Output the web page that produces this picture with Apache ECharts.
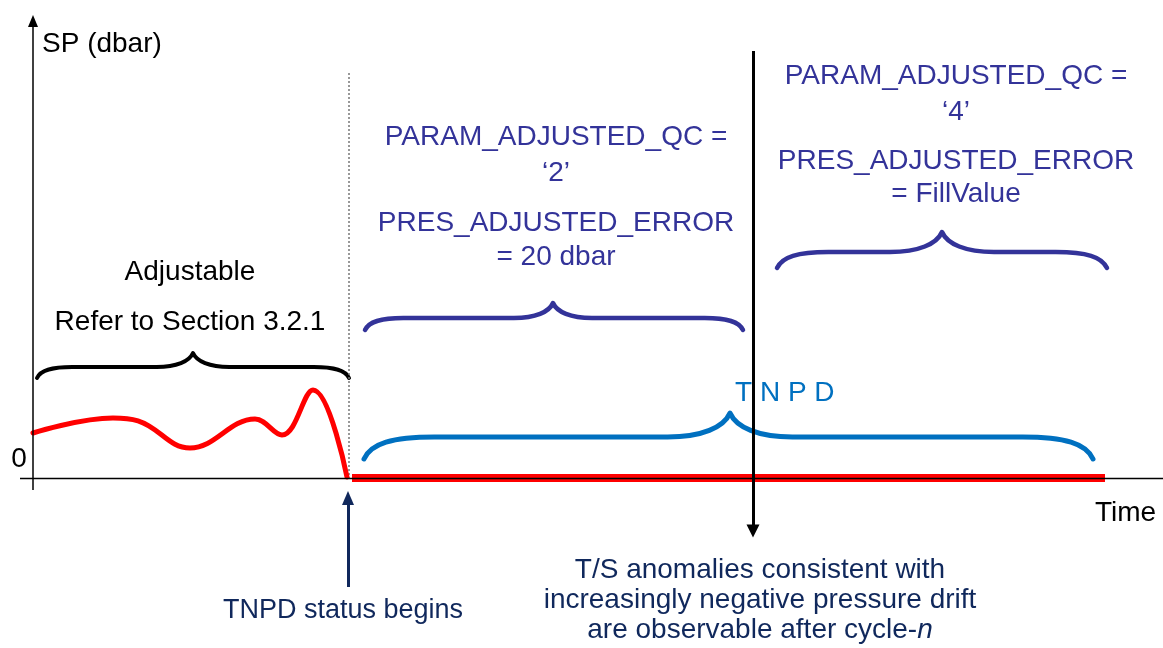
<!DOCTYPE html>
<html>
<head>
<meta charset="utf-8">
<script src="https://cdn.jsdelivr.net/npm/echarts@6/dist/echarts.min.js"></script>
<style>
  html, body { margin: 0; padding: 0; background: #fff; }
  #chart { width: 1163px; height: 648px; }
</style>
</head>
<body>
<div id="chart"></div>
<script>
// x in time units (10 px each), y in SP units (4 px each), 0/0 = axis origin
const spBefore = [[0, 11.25], [8, 15], [10.5, 14.3], [15.7, 7.5], [22.2, 14.75], [24.9, 10.75], [28, 22], [31.4, 0.25]];
const spTnpd = [[31.9, 0], [107.2, 0]];
const tnpdStartX = 31.6;
const cycleNX = 72;

// braces: Adjustable, QC=2, QC=4, TNPD
const braceX0 = [0.4, 33.2, 74.4, 33.1];
const braceX1 = [31.6, 71, 107.4, 106];
const braceTipX = [16, 52, 90.9, 69.7];
const braceEndY = [25, 37, 52.5, 4.75];
const braceFlatY = [27.75, 40, 56.5, 10.25];
const braceTipY = [31.25, 43.75, 61.5, 16.25];
const braceColors = ['#000000', '#333399', '#333399', '#0070c0'];
const braceWidths = [4, 4.5, 4.5, 5];

const FONT = '"Liberation Sans", Arial, sans-serif';
const NAVY = '#333399';
const DARK = '#10285c';

const chart = echarts.init(document.getElementById('chart'));

const braceData = braceX0.map((x0, i) => [x0, braceX1[i], braceTipX[i], braceEndY[i], braceFlatY[i], braceTipY[i]]);

function renderBrace(params, api) {
  const i = params.dataIndex;
  const a = api.coord([api.value(0), api.value(3)]);
  const b = api.coord([api.value(1), api.value(3)]);
  const f = api.coord([api.value(2), api.value(4)]);
  const t = api.coord([api.value(2), api.value(5)]);
  const x0 = a[0], x1 = b[0], xt = t[0], yE = a[1], yF = f[1], yT = t[1];
  const r = 3.2 * (yE - yF);
  const h = yF - yT;
  const s = 2.6 * h;
  const d = [
    'M', x0, yE,
    'C', x0 + 0.1 * r, yE - 0.7 * (yE - yF), x0 + 0.4 * r, yF, x0 + r, yF,
    'L', xt - s, yF,
    'C', xt - 0.45 * s, yF, xt - 0.1 * s, yF - 0.4 * h, xt, yT,
    'C', xt + 0.1 * s, yF - 0.4 * h, xt + 0.45 * s, yF, xt + s, yF,
    'L', x1 - r, yF,
    'C', x1 - 0.4 * r, yF, x1 - 0.1 * r, yE - 0.7 * (yE - yF), x1, yE
  ].join(' ');
  return {
    type: 'path',
    shape: { pathData: d },
    style: { fill: 'none', stroke: braceColors[i], lineWidth: braceWidths[i], lineCap: 'round', lineJoin: 'round' }
  };
}

function txt(x, y, text, opts) {
  opts = opts || {};
  return {
    type: 'text',
    x: x,
    y: y,
    silent: true,
    style: {
      text: text,
      fill: opts.color || '#000',
      fontSize: opts.size || 28,
      fontFamily: FONT,
      textAlign: opts.align || 'center',
      align: opts.align || 'center',
      textVerticalAlign: 'middle',
      verticalAlign: 'middle',
      rich: opts.rich
    }
  };
}

const option = {
  animation: false,
  grid: { left: 0, right: 0, top: 0, bottom: 0 },
  xAxis: { type: 'value', min: -3.3, max: 113, show: false },
  yAxis: { type: 'value', min: -42.5, max: 119.5, show: false },
  series: [
    {
      // axes + arrows
      type: 'line',
      data: [],
      silent: true,
      markLine: {
        silent: true,
        animation: false,
        label: { show: false },
        data: [
          [{ coord: [-1.3, 0], symbol: 'none', lineStyle: { color: '#000', width: 1.3, type: 'solid' } },
           { coord: [113, 0], symbol: 'none' }],
          [{ coord: [0, -3], symbol: 'none', lineStyle: { color: '#000', width: 1.5, type: 'solid' } },
           { coord: [0, 114.25], symbol: 'triangle', symbolSize: [10, 12] }],
          [{ coord: [tnpdStartX - 0.1, -27.25], symbol: 'none', lineStyle: { color: DARK, width: 3, type: 'solid' } },
           { coord: [tnpdStartX - 0.1, -5], symbol: 'triangle', symbolSize: [12, 14] }]
        ]
      }
    },
    {
      type: 'line',
      data: [[tnpdStartX, 101.25], [tnpdStartX, 0]],
      symbol: 'none',
      silent: true,
      lineStyle: { color: '#777', width: 1.5, type: [2, 2] }
    },
    {
      type: 'custom',
      data: braceData,
      silent: true,
      clip: false,
      renderItem: renderBrace
    },
    {
      type: 'line',
      data: spBefore,
      smooth: 0.4,
      symbol: 'none',
      silent: true,
      lineStyle: { color: '#ff0000', width: 5, cap: 'round' }
    },
    {
      type: 'line',
      data: spTnpd,
      symbol: 'none',
      silent: true,
      lineStyle: { color: '#ff0000', width: 8 }
    },
    {
      // cycle-n marker
      type: 'line',
      data: [],
      silent: true,
      markLine: {
        silent: true,
        animation: false,
        label: { show: false },
        data: [
          [{ coord: [cycleNX, 106.75], symbol: 'none', lineStyle: { color: '#000', width: 3, type: 'solid' } },
           { coord: [cycleNX, -13.25], symbol: 'triangle', symbolSize: [13, 13] }]
        ]
      }
    }
  ],
  graphic: [
    txt(42, 44, 'SP (dbar)', { align: 'left' }),
    txt(19, 459, '0'),
    txt(1095, 513, 'Time', { align: 'left' }),
    txt(190, 272, 'Adjustable'),
    txt(190, 322, 'Refer to Section 3.2.1'),
    txt(556, 137, 'PARAM_ADJUSTED_QC =', { color: NAVY }),
    txt(556, 173, '\u20182\u2019', { color: NAVY }),
    txt(556, 223, 'PRES_ADJUSTED_ERROR', { color: NAVY }),
    txt(556, 257, '= 20 dbar', { color: NAVY }),
    txt(956, 76, 'PARAM_ADJUSTED_QC =', { color: NAVY }),
    txt(956, 112, '\u20184\u2019', { color: NAVY }),
    txt(956, 161, 'PRES_ADJUSTED_ERROR', { color: NAVY }),
    txt(956, 194, '= FillValue', { color: NAVY }),
    txt(735, 393, 'T N P D', { color: '#0070c0', align: 'left' }),
    txt(343, 611, 'TNPD status begins', { color: DARK, size: 27 }),
    txt(760, 570, 'T/S anomalies consistent with', { color: DARK }),
    txt(760, 600, 'increasingly negative pressure drift', { color: DARK }),
    txt(760, 630, 'are observable after cycle-{i|n}', { color: DARK, rich: { i: { fontStyle: 'italic', fontSize: 28, fontFamily: FONT, fill: DARK, color: DARK } } })
  ]
};

chart.setOption(option);
</script>
</body>
</html>
